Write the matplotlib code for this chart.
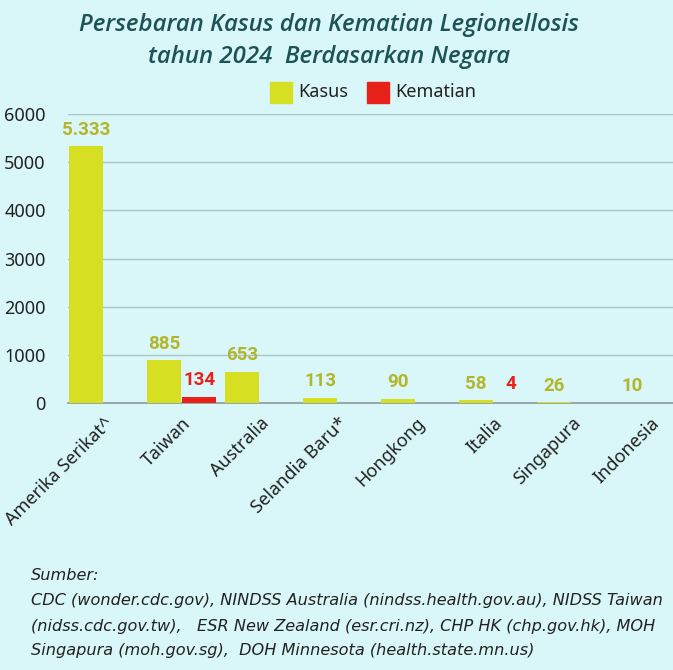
import matplotlib.pyplot as plt
import numpy as np

negara = ['Amerika Serikat^', 'Taiwan', 'Australia', 'Selandia Baru*',
          'Hongkong', 'Italia', 'Singapura', 'Indonesia']
kasus = [5333, 885, 653, 113, 90, 58, 26, 10]
kematian = [None, 134, None, None, None, 4, None, None]
label_kasus = ['5.333', '885', '653', '113', '90', '58', '26', '10']

bg = '#d9f6f8'
kuning = '#d7df23'
merah = '#e8211a'
teks_kuning = '#b3b62c'
judul = '#1d5356'

fig = plt.figure(figsize=(6.73, 6.70), dpi=100, facecolor=bg)
ax = fig.add_axes([68/673, 1-403/670, (673-68)/673, (403-114)/670], facecolor=bg)

x = np.arange(len(negara))
w = 0.44
ax.bar(x - 0.225, kasus, w, color=kuning, zorder=3)
km = [v if v is not None else 0 for v in kematian]
ax.bar(x + 0.225, km, w, color=merah, zorder=3)

for i, v in enumerate(kasus):
    ax.text(x[i] - 0.225, v + 150, label_kasus[i], ha='center', va='bottom',
            color=teks_kuning, fontsize=13.5, fontweight='bold',
            family='Roboto', clip_on=False)
for i, v in enumerate(kematian):
    if v is not None:
        ax.text(x[i] + 0.225, v + 150 if v > 50 else 58 + 150, str(v),
                ha='center', va='bottom', color=merah, fontsize=13.5,
                fontweight='bold', family='Roboto')

ax.set_ylim(0, 6000)
ax.set_xlim(-0.458, 7.30)
ax.set_yticks(range(0, 7000, 1000))
ax.yaxis.grid(True, color='#a9c5c8', lw=1, zorder=0)
ax.tick_params(axis='y', length=0, labelsize=13, labelcolor='#222222', pad=16)
for lab in ax.get_yticklabels():
    lab.set_family('Noto Sans')
ax.set_xticks(x)
ax.set_xticklabels(negara, rotation=45, ha='right', rotation_mode='anchor',
                   fontsize=13, color='#222222', family='Noto Sans')
ax.tick_params(axis='x', length=0, pad=8)
for s in ['top', 'right', 'left']:
    ax.spines[s].set_visible(False)
ax.spines['bottom'].set_color('#8c9a9c')
ax.spines['bottom'].set_linewidth(1.2)

fig.text(329/673, 1-25/670, 'Persebaran Kasus dan Kematian Legionellosis',
         ha='center', va='center', fontsize=17.3, fontweight='semibold',
         style='italic', color=judul, family='Open Sans')
fig.text(329/673, 1-57/670, 'tahun 2024  Berdasarkan Negara',
         ha='center', va='center', fontsize=17.3, fontweight='semibold',
         style='italic', color=judul, family='Open Sans')

# legenda
fig.patches.append(plt.Rectangle((270/673, 1-103/670), 22/673, 21/670,
                                 transform=fig.transFigure, color=kuning))
fig.text(298/673, 1-92/670, 'Kasus', va='center', fontsize=13,
         color='#222222', family='Noto Sans')
fig.patches.append(plt.Rectangle((367/673, 1-103/670), 22/673, 21/670,
                                 transform=fig.transFigure, color=merah))
fig.text(395/673, 1-92/670, 'Kematian', va='center', fontsize=13,
         color='#222222', family='Noto Sans')

sumber = ['Sumber:',
          'CDC (wonder.cdc.gov), NINDSS Australia (nindss.health.gov.au), NIDSS Taiwan',
          '(nidss.cdc.gov.tw),   ESR New Zealand (esr.cri.nz), CHP HK (chp.gov.hk), MOH',
          'Singapura (moh.gov.sg),  DOH Minnesota (health.state.mn.us)']
for j, baris in enumerate(sumber):
    fig.text(31/673, 1-(576 + 25*j)/670, baris, va='center', fontsize=11.6,
             style='italic', color='#222222', family='DejaVu Sans')

fig.savefig('out.png', dpi=100, facecolor=bg)
